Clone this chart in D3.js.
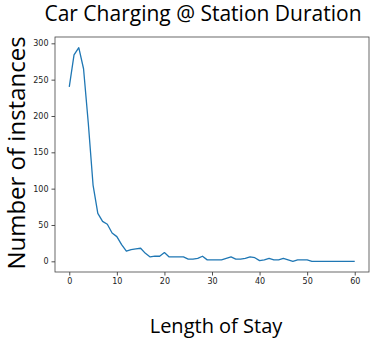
<!DOCTYPE html>
<html>
<head>
<meta charset="utf-8">
<script src="https://cdn.jsdelivr.net/npm/d3@7"></script>
<style>
  body { margin: 0; background: #fff; }
  .tick text { font-family: "DejaVu Sans", sans-serif; font-size: 8px; fill: #222; }
  .title, .axis-label { font-family: "Open Sans", sans-serif; fill: #000; }
</style>
</head>
<body>
<div id="chart"></div>
<script>
// length of stay (x) and number of instances (y)
var stay = [];
for (var i = 0; i <= 60; i++) stay.push(i);

var instances = [
  240, 284, 294, 265, 190, 105, 66, 55, 51, 39,
  34, 23, 14, 16, 17, 18, 11, 6, 7, 7,
  12, 6, 6, 6, 6, 3, 3, 4, 7, 2,
  2, 2, 2, 4, 6, 3, 3, 4, 6, 5,
  1, 2, 4, 2, 2, 4, 2, 0, 2, 2,
  2, 0, 0, 0, 0, 0, 0, 0, 0, 0,
  0
];

var xTicks = [0, 10, 20, 30, 40, 50, 60];
var yTicks = [0, 50, 100, 150, 200, 250, 300];

var svgWidth = 370;
var svgHeight = 338;

var margin = {
  top: 37,
  right: 1,
  bottom: 66,
  left: 55
};

var width = svgWidth - margin.left - margin.right;
var height = svgHeight - margin.top - margin.bottom;

var svg = d3.select("#chart")
  .append("svg")
  .attr("width", svgWidth)
  .attr("height", svgHeight);

var chartGroup = svg.append("g")
  .attr("transform", `translate(${margin.left}, ${margin.top})`);

// matplotlib-style 5% padding on both axes
var xPad = (60 - 0) * 0.05;
var xScale = d3.scaleLinear()
  .domain([0 - xPad, 60 + xPad])
  .range([0, width]);

var yMax = d3.max(instances);
var yPad = yMax * 0.05;
var yScale = d3.scaleLinear()
  .domain([0 - yPad, yMax + yPad])
  .range([height, 0]);

var bottomAxis = d3.axisBottom(xScale).tickValues(xTicks).tickSize(3.5).tickPadding(3);
var leftAxis = d3.axisLeft(yScale).tickValues(yTicks).tickSize(3.5).tickPadding(3);

var xAxis = chartGroup.append("g")
  .attr("transform", `translate(0, ${height})`)
  .call(bottomAxis);

var yAxis = chartGroup.append("g")
  .call(leftAxis);

[xAxis, yAxis].forEach(function(ax) {
  ax.select(".domain").remove();
  ax.selectAll(".tick line").attr("stroke", "#222").attr("stroke-width", 0.8);
});

// frame
chartGroup.append("rect")
  .attr("x", 0)
  .attr("y", 0)
  .attr("width", width)
  .attr("height", height)
  .attr("fill", "none")
  .attr("stroke", "#444")
  .attr("stroke-width", 0.8);

var line = d3.line()
  .x(function(d, i) { return xScale(stay[i]); })
  .y(function(d) { return yScale(d); });

chartGroup.append("path")
  .datum(instances)
  .attr("d", line)
  .attr("fill", "none")
  .attr("stroke", "#1f77b4")
  .attr("stroke-width", 1.3)
  .attr("stroke-linejoin", "round");

// title and axis labels
svg.append("text")
  .attr("class", "title")
  .attr("x", 203)
  .attr("y", 21)
  .attr("text-anchor", "middle")
  .style("font-size", "21px")
  .text("Car Charging @ Station Duration");

svg.append("text")
  .attr("class", "axis-label")
  .attr("transform", "translate(25, 153) rotate(-90)")
  .attr("text-anchor", "middle")
  .style("font-size", "24px")
  .text("Number of instances");

svg.append("text")
  .attr("class", "axis-label")
  .attr("x", 216)
  .attr("y", 333)
  .attr("text-anchor", "middle")
  .style("font-size", "20px")
  .text("Length of Stay");
</script>
</body>
</html>
